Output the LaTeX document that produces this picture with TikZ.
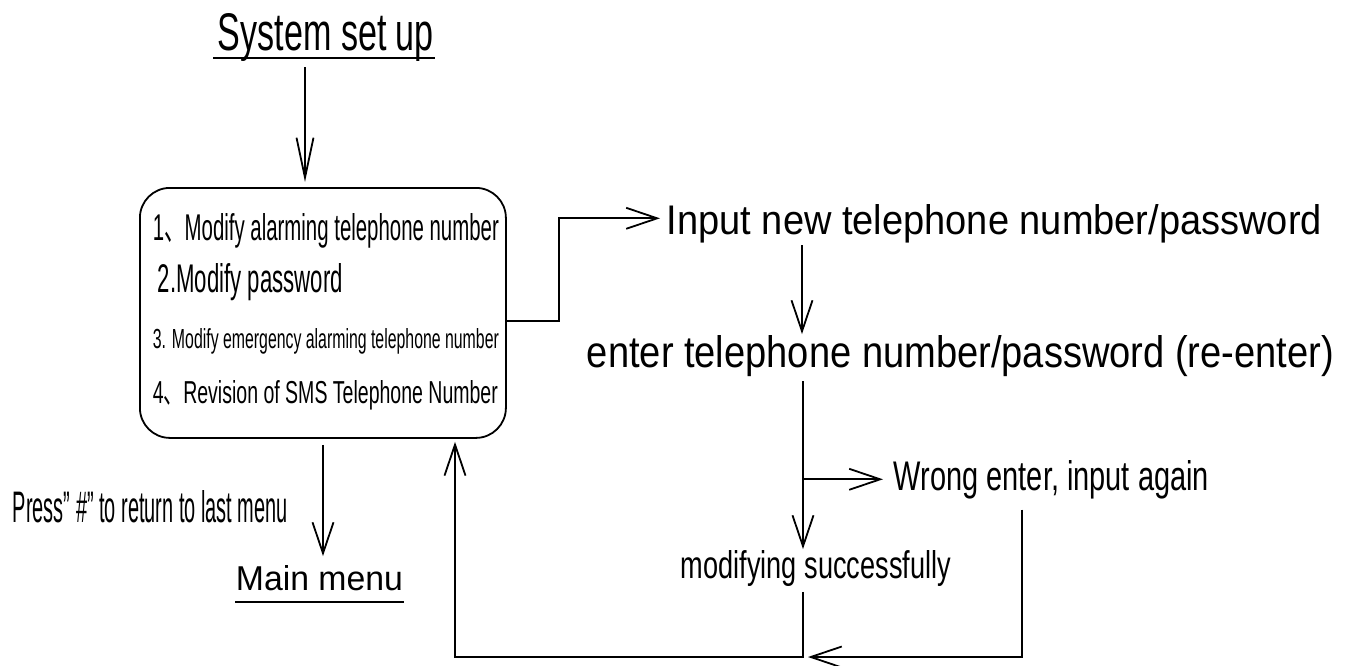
\documentclass[tikz,border=0pt]{standalone}
\usepackage{fontspec}
\setmainfont{Liberation Sans}
\newfontfamily\cjkfont{Noto Sans CJK SC}
\usepackage{graphicx}
\usetikzlibrary{arrows.meta}
\newcommand\squeeze[3]{\resizebox{#1pt}{#2pt}{#3}}
\tikzset{
    every node/.style={inner sep=0pt, anchor=base west},
    arr/.style={-{Straight Barb[length=31pt,width=21pt]}},
    menubox/.style={draw, rounded corners=30pt, minimum width=366pt, minimum height=250pt, anchor=north west},
}

\begin{document}
\begin{tikzpicture}[x=1pt,y=-1pt,line width=1.8pt]
    \useasboundingbox (0,0) rectangle (1347,665);

    \node (sys) at (217,50) {\squeeze{216}{37}{System set up}};
    \draw ([xshift=-4pt,yshift=-8pt]sys.base west) -- ([yshift=-8pt]sys.base east);

    \node[menubox] (box) at (139,187) {};
    \foreach \X/\Y/\W/\H/\T [count=\i] in {152/240/346/27/{1{\cjkfont 、}Modify alarming telephone number},157/292/185/29/{2.Modify password},152/348/346/20/{3. Modify emergency alarming telephone number},152/403/345/23/{4{\cjkfont 、}Revision of SMS Telephone Number}}
    {\node (item\i) at (\X,\Y) {\squeeze{\W}{\H}{\T}}; }

    \node (inp) at (666,234) {\squeeze{655}{30}{Input new telephone number/password}};
    \node (ent) at (586,367) {\squeeze{747}{32}{enter telephone number/password (re-enter)}};
    \node (wrong) at (893,490) {\squeeze{315}{30}{Wrong enter, input again}};
    \node (mod) at (680,578) {\squeeze{270}{28}{modifying successfully}};
    \node (main) at (235,590) {\squeeze{167}{25}{Main menu}};
    \draw ([yshift=-12pt]main.base west) -- ([yshift=-12pt]main.base east);
    \node (press) at (12,522) {\squeeze{275}{32}{Press" \#" to return to last menu}};

    \coordinate (top) at (305,0);   %sys
    \coordinate (home) at (323,0);  %main
    \coordinate (back) at (455,0);  %return
    \coordinate (c2) at (802,0);
    \coordinate (trunk) at (803,0);
    \coordinate (joint) at (803,657);
    \coordinate (exit) at (1022,0);

    \draw[-{Straight Barb[length=40pt,width=17pt]}] ([yshift=-17pt]sys.base -| top) -- ([yshift=5pt]box.north -| top);
    \draw[arr, shorten >=6pt] ([yshift=-8pt]box.east) -- ++(52,0) |- ([yshift=5pt]inp.west);
    \draw[arr] ([yshift=-2pt]inp.south -| c2) -- (ent.north -| c2);
    \draw[arr, shorten <=4pt] (ent.south -| trunk) -- (mod.north -| trunk);
    \draw[arr, shorten >=10pt] (trunk |- wrong.west) -- (wrong.west);
    \draw[arr, shorten <=5pt] (mod.south -| trunk) -- (joint) -| ([yshift=-3pt]box.south -| back);
    \draw[arr, shorten <=10pt, shorten >=5pt] (exit |- wrong.south) -- (exit |- joint) -- (joint);
    \draw[arr, shorten >=8pt] ([yshift=-6pt]box.south -| home) -- (main.north -| home);
\end{tikzpicture}
\end{document}
